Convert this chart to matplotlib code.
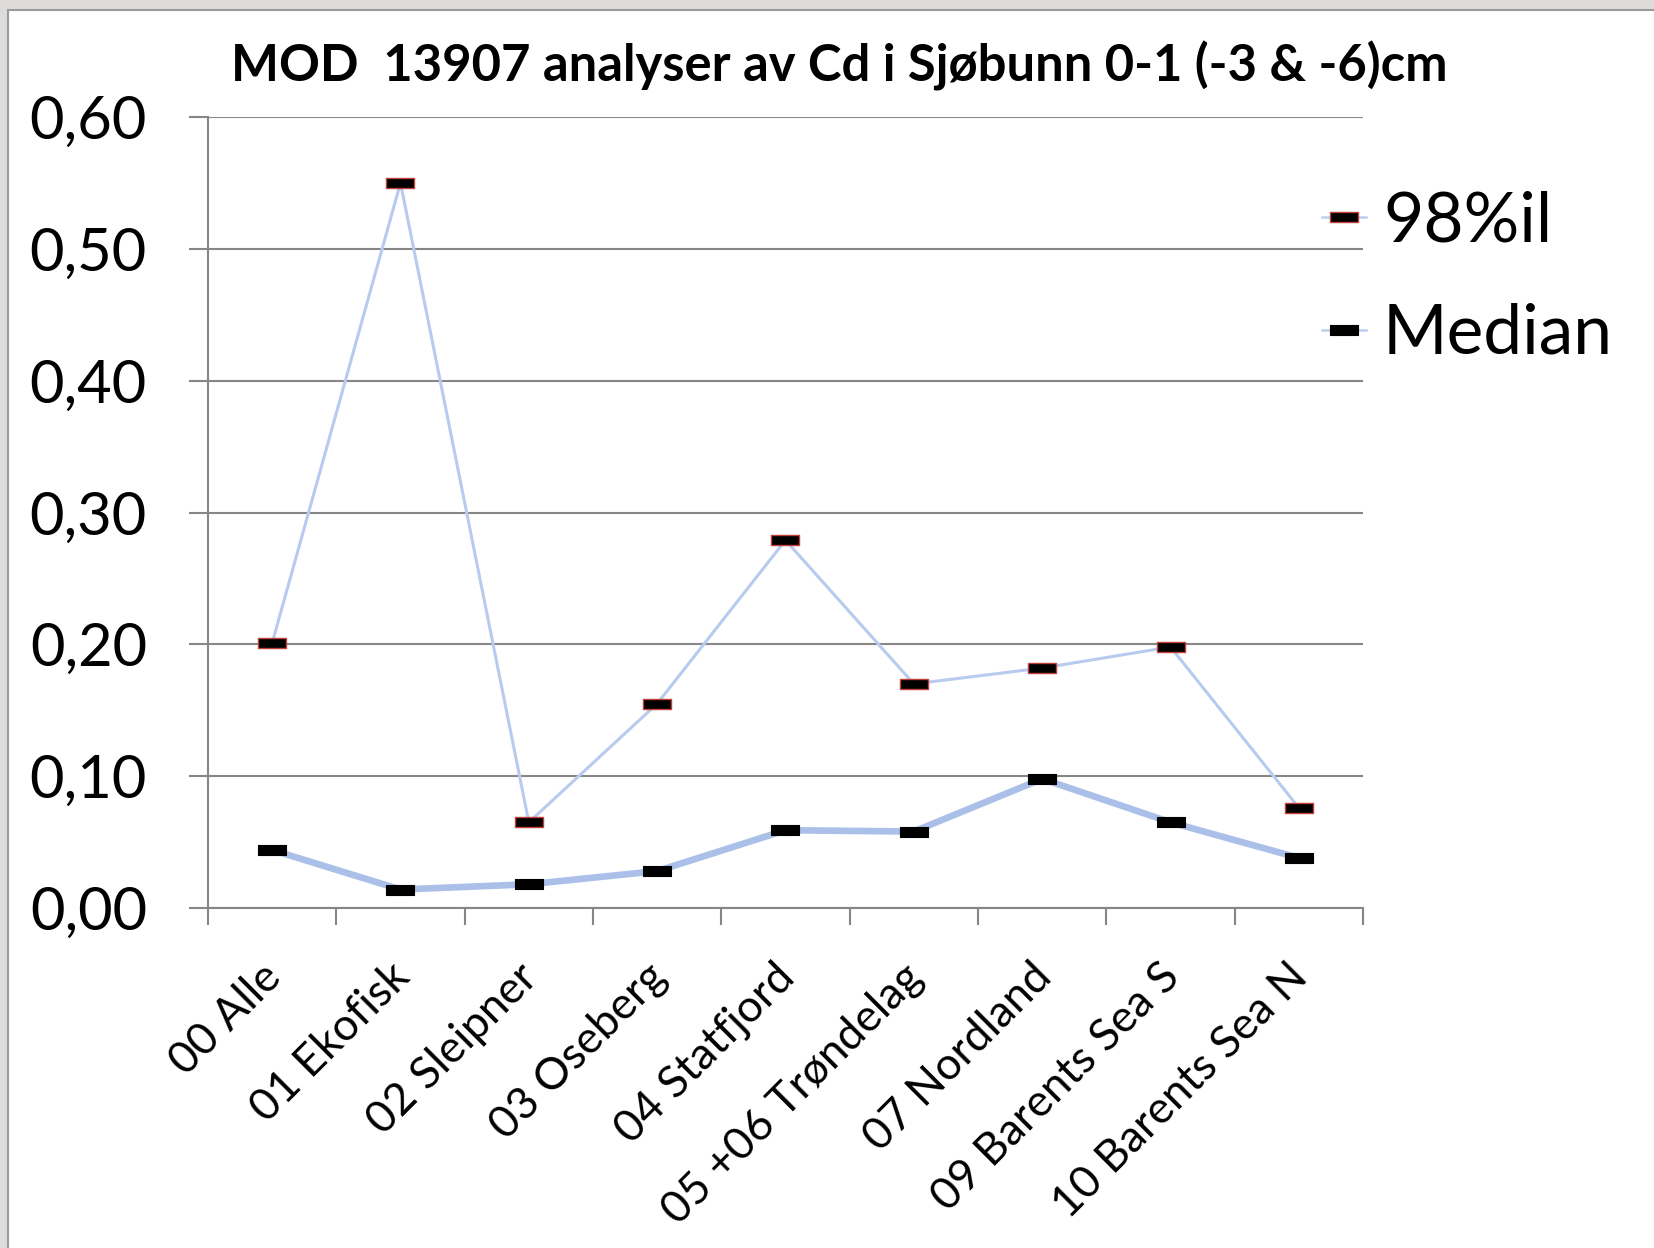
import matplotlib
matplotlib.use("Agg")
import matplotlib.pyplot as plt
from matplotlib.path import Path
from matplotlib.patches import Rectangle
from matplotlib.transforms import ScaledTranslation
from matplotlib.lines import Line2D

categories = ["00 Alle", "01 Ekofisk", "02 Sleipner", "03 Oseberg", "04 Statfjord",
              "05 +06 Trøndelag", "07 Nordland", "09 Barents Sea S", "10 Barents Sea N"]
p98 = [0.201, 0.550, 0.065, 0.155, 0.279, 0.170, 0.182, 0.198, 0.076]
median = [0.044, 0.014, 0.018, 0.028, 0.059, 0.058, 0.098, 0.065, 0.038]
yticks = [0.0, 0.1, 0.2, 0.3, 0.4, 0.5, 0.6]
ytick_labels = ["0,00", "0,10", "0,20", "0,30", "0,40", "0,50", "0,60"]
title = "MOD  13907 analyser av Cd i Sjøbunn 0-1 (-3 & -6)cm"

FONT = ["Lato", "DejaVu Sans"]
plt.rcParams["font.family"] = FONT

W, H = 1654, 1248
fig = plt.figure(figsize=(W / 100, H / 100), dpi=100)
fig.patch.set_facecolor("#DEDCDA")
bg = Rectangle((8 / W, -0.02), 1.1, 1 - 10 / H + 0.02, transform=fig.transFigure,
               facecolor="white", edgecolor="#9A9A9A", linewidth=1.5, zorder=-10)
fig.patches.append(bg)

ax = fig.add_axes([208 / W, 1 - 908 / H, (1363 - 208) / W, (908 - 117) / H])
ax.set_zorder(5)
ax.set_facecolor("none")

dash = Path([(-1, -0.33), (1, -0.33), (1, 0.33), (-1, 0.33), (-1, -0.33)],
            [Path.MOVETO, Path.LINETO, Path.LINETO, Path.LINETO, Path.CLOSEPOLY])

x = list(range(len(categories)))
ax.plot(x, p98, color="#B8CBEE", lw=2.2, marker=dash, markersize=20,
        markerfacecolor="black", markeredgecolor="#C0403A", markeredgewidth=1.0,
        solid_joinstyle="round", zorder=3)
ax.plot(x, median, color="#ABC0E9", lw=4.8, marker=dash, markersize=20,
        markerfacecolor="black", markeredgecolor="black", markeredgewidth=0.8,
        solid_joinstyle="round", zorder=3)

ax.set_xlim(-0.5, len(categories) - 0.5)
ax.set_ylim(0, 0.6)
ax.set_yticks(yticks)
ax.set_yticklabels(ytick_labels, fontsize=43)
ax.grid(axis="y", color="#868686", lw=1.5, zorder=1)
ax.tick_params(axis="y", length=14, width=1.5, color="#868686", pad=30, labelcolor="black")
ax.set_xticks([i - 0.5 for i in range(len(categories) + 1)])
ax.set_xticklabels([])
ax.tick_params(axis="x", length=12, width=1.5, color="#868686")
for s in ["top", "right"]:
    ax.spines[s].set_visible(False)
for s in ["left", "bottom"]:
    ax.spines[s].set_color("#868686")
    ax.spines[s].set_linewidth(1.5)
ax.set_axisbelow(True)

off = ScaledTranslation(17 / 100, -48 / 100, fig.dpi_scale_trans)
for i, c in enumerate(categories):
    ax.text(i, 0, c, transform=ax.get_xaxis_transform() + off, rotation=45,
            ha="right", va="top", rotation_mode="default", fontsize=32)

fig.text(839 / W, 1 - 66 / H, title, ha="center", va="center", fontsize=36.5,
         fontweight="bold", family=FONT)

h1 = Line2D([], [], color="#BCCEEE", lw=1.8, marker=dash, markersize=20,
            markerfacecolor="black", markeredgecolor="#C0403A", markeredgewidth=1.0)
h2 = Line2D([], [], color="#BCCEEE", lw=1.8, marker=dash, markersize=20,
            markerfacecolor="black", markeredgecolor="black", markeredgewidth=0.8)
leg = fig.legend([h1, h2], ["98%il", "Median"], loc="upper left",
                 bbox_to_anchor=(1322 / W, 1 - 190 / H), frameon=False, fontsize=50,
                 handlelength=0.63, handletextpad=0.25, labelspacing=0.72, borderpad=0,
                 borderaxespad=0)
leg.set_zorder(6)

fig.savefig("out.png", dpi=100, facecolor=fig.get_facecolor())
